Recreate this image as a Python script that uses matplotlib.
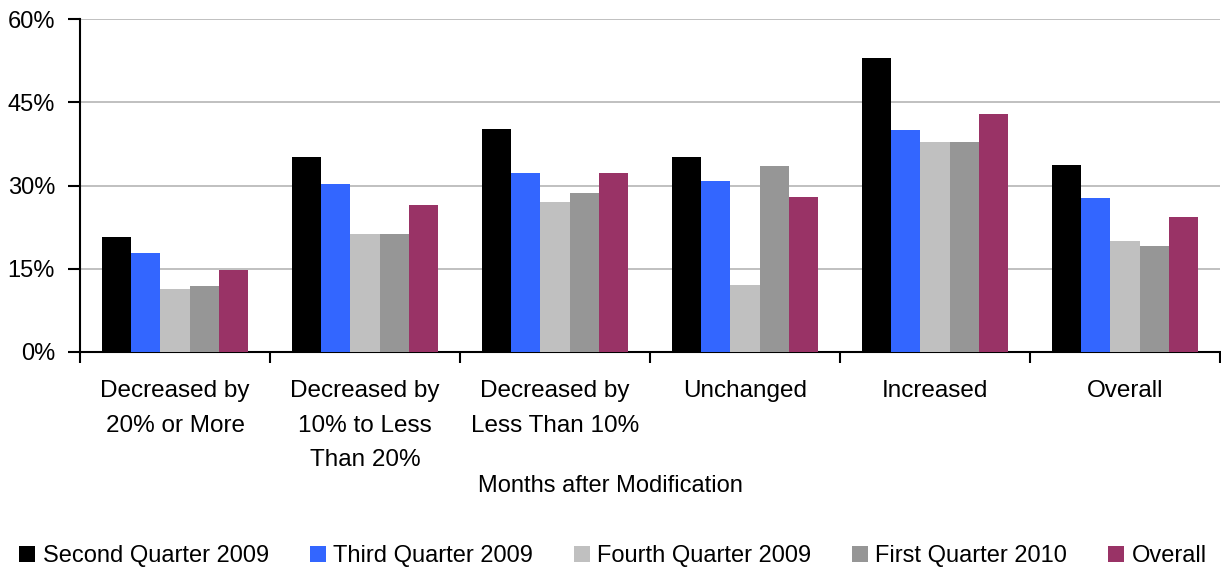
import matplotlib
matplotlib.use("Agg")
import matplotlib.pyplot as plt
import numpy as np
from matplotlib.patches import Patch

plt.rcParams['font.family'] = ['Liberation Sans', 'DejaVu Sans']

categories = ["Decreased by\n20% or More", "Decreased by\n10% to Less\nThan 20%",
              "Decreased by\nLess Than 10%", "Unchanged", "Increased", "Overall"]
series_names = ["Second Quarter 2009", "Third Quarter 2009", "Fourth Quarter 2009",
                "First Quarter 2010", "Overall"]
second_q_2009 = [20.7, 35.1, 40.1, 35.1, 53.0, 33.7]
third_q_2009 = [17.8, 30.2, 32.2, 30.9, 40.0, 27.7]
fourth_q_2009 = [11.35, 21.3, 27.1, 12.1, 37.8, 20.0]
first_q_2010 = [11.9, 21.3, 28.6, 33.6, 37.8, 19.1]
overall = [14.8, 26.4, 32.2, 28.0, 42.9, 24.3]
colors = ["#000000", "#3366FF", "#C0C0C0", "#969696", "#993366"]
yticks = [0, 15, 30, 45, 60]

series = [second_q_2009, third_q_2009, fourth_q_2009, first_q_2010, overall]

FS = 17

fig = plt.figure(figsize=(12.21, 5.69), dpi=100)
ax = fig.add_axes([80/1221, 1-352/569, 1140/1221, 333/569])

n = len(series)
group_w = 0.77
bw = group_w / n
x = np.arange(len(categories))
for i, (vals, c) in enumerate(zip(series, colors)):
    ax.bar(x - group_w/2 + bw*(i+0.5), vals, width=bw, color=c, zorder=3, linewidth=0)

ax.set_xlim(-0.5, len(categories)-0.5)
ax.set_ylim(0, 60)
ax.set_yticks(yticks)
ax.set_yticklabels([f"{v}%" for v in yticks], fontsize=FS)
ax.yaxis.grid(True, color="#C0C0C0", linewidth=1.4, zorder=0)
ax.set_axisbelow(True)

ax.set_xticks(np.arange(len(categories)+1) - 0.5)
ax.set_xticklabels([])
ax.set_xticks(x, minor=True)
ax.set_xticklabels(categories, minor=True, fontsize=17.5, linespacing=1.75, va='top')
ax.tick_params(axis='x', which='minor', length=0, pad=20)
ax.tick_params(axis='x', which='major', length=8, width=1.5, direction='out')
ax.tick_params(axis='y', length=9, width=1.5, direction='out', pad=9)

for s in ['top', 'right']:
    ax.spines[s].set_visible(False)
ax.spines['left'].set_linewidth(1.5)
ax.spines['bottom'].set_linewidth(1.5)

fig.text(0.5, 1-486/569, "Months after Modification", ha='center', va='center', fontsize=FS)

handles = [Patch(facecolor=c, edgecolor='none') for c in colors]
fig.legend(handles, series_names, loc='center', bbox_to_anchor=(0.502, 1-556/569),
           ncol=5, frameon=False, fontsize=FS, handlelength=0.68, handleheight=0.68,
           handletextpad=0.3, columnspacing=1.74, borderaxespad=0)

fig.savefig("out.png", dpi=100)
